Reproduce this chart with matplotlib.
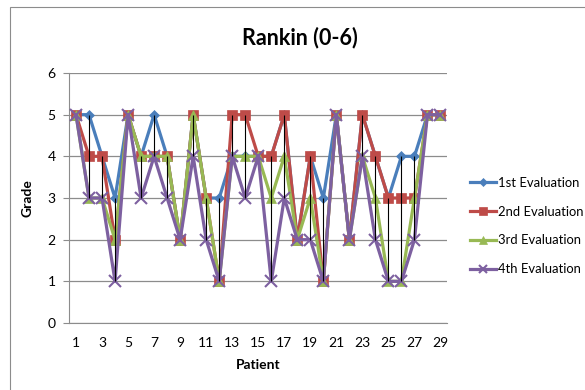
import numpy as np
import matplotlib
matplotlib.use("Agg")
import matplotlib.pyplot as plt
from matplotlib.patches import Rectangle

plt.rcParams['font.family'] = ['Lato', 'DejaVu Sans']

patients = list(range(1, 30))
eval1 = [5, 5, 4, 3, 5, 4, 5, 4, 2, 5, 3, 3, 4, 4, 4, 4, 5, 2, 4, 3, 5, 2, 5, 4, 3, 4, 4, 5, 5]
eval2 = [5, 4, 4, 2, 5, 4, 4, 4, 2, 5, 3, 1, 5, 5, 4, 4, 5, 2, 4, 1, 5, 2, 5, 4, 3, 3, 3, 5, 5]
eval3 = [5, 3, 3, 2, 5, 4, 4, 4, 2, 5, 3, 1, 4, 4, 4, 3, 4, 2, 3, 1, 5, 2, 4, 3, 1, 1, 3, 5, 5]
eval4 = [5, 3, 3, 1, 5, 3, 4, 3, 2, 4, 2, 1, 4, 3, 4, 1, 3, 2, 2, 1, 5, 2, 4, 2, 1, 1, 2, 5, 5]
labels = ["1st Evaluation", "2nd Evaluation", "3rd Evaluation", "4th Evaluation"]
xticks = list(range(1, 30, 2))

series = [eval1, eval2, eval3, eval4]
colors = ["#4A7EBB", "#BE4B48", "#98B954", "#7D60A0"]
markers = ["D", "s", "^", "x"]
msizes = [5.5, 7.5, 7.5, 8]

fig = plt.figure(figsize=(5.85, 3.9), dpi=100)
ax = fig.add_axes([0.1188, 0.1718, 0.6453, 0.641])

# chart area border
fig.patches.append(Rectangle((10 / 585, -0.05), 1.0, 1 - 7 / 390 + 0.05,
                             transform=fig.transFigure, fill=False,
                             edgecolor="#8c8c8c", lw=0.8))

for vals, c, m, ms, lab in zip(series, colors, markers, msizes, labels):
    ax.plot(patients, vals, color=c, lw=2.3, marker=m, markersize=ms,
            markeredgewidth=1.5 if m == "x" else 0.5, markeredgecolor=c,
            label=lab, zorder=3)

# high-low lines
data = np.array(series)
ax.vlines(patients, data.min(axis=0), data.max(axis=0), color="black",
          lw=0.8, zorder=5)

ax.set_xlim(0.5, 29.5)
ax.set_ylim(0, 6)
ax.set_xticks(xticks)
ax.set_yticks(range(0, 7))
ax.tick_params(axis="x", length=0, labelsize=10, pad=10)
ax.tick_params(axis="y", length=4, color="#8c8c8c", labelsize=10, pad=6)
ax.yaxis.grid(True, color="#8c8c8c", lw=0.9)
ax.set_axisbelow(True)
for s in ["top", "right"]:
    ax.spines[s].set_visible(False)
for s in ["left", "bottom"]:
    ax.spines[s].set_color("#8c8c8c")

ax.set_xlabel("Patient", fontsize=10, fontweight="bold", labelpad=7)
ax.set_ylabel("Grade", fontsize=10, fontweight="bold", labelpad=10)
fig.text(300 / 585, 1 - 38 / 390, "Rankin (0-6)", fontsize=15.5,
         fontweight="bold", ha="center", va="center")

leg = fig.legend(loc="center left", bbox_to_anchor=(458 / 585, 1 - 226 / 390),
                 frameon=False, fontsize=9.4, handlelength=2.0,
                 labelspacing=1.3, handletextpad=0.15, markerscale=0.8)
for h in leg.legend_handles:
    h.set_linewidth(2.3)

fig.savefig("out.png", dpi=100)
